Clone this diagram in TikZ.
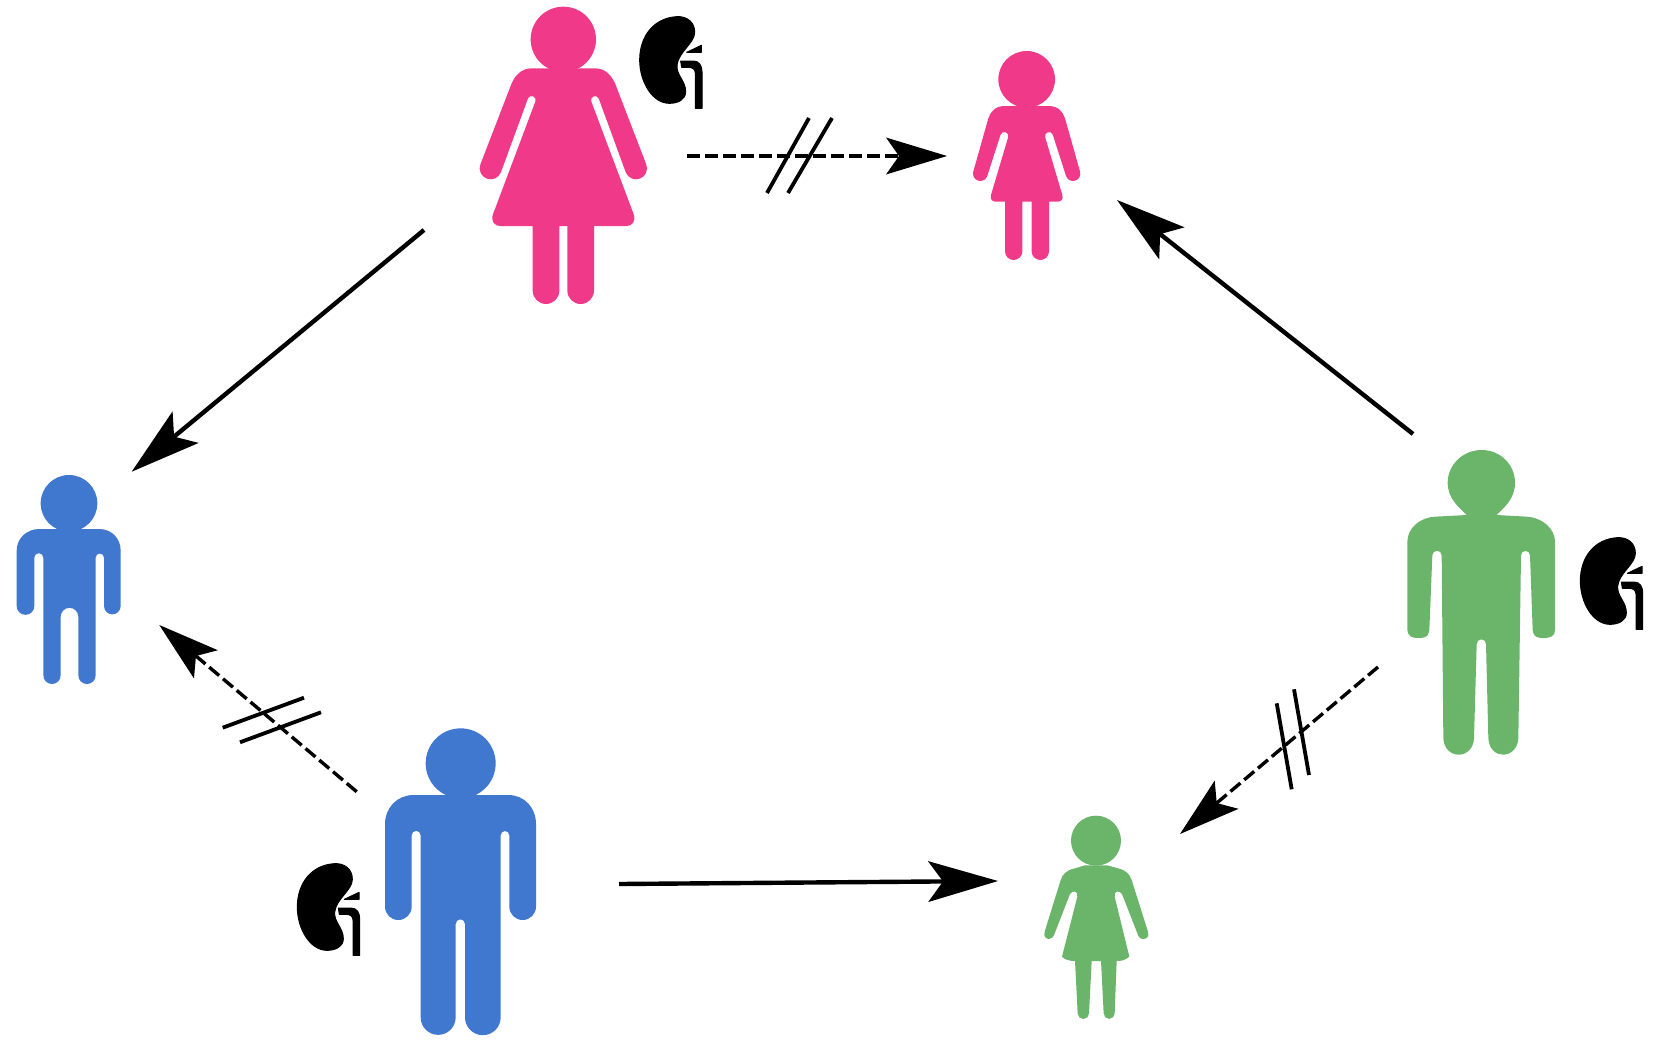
\documentclass[tikz,border=0pt]{standalone}
\usetikzlibrary{arrows.meta}
\definecolor{pinkfig}{HTML}{F1398A}
\definecolor{bluefig}{HTML}{3F78CE}
\definecolor{greenfig}{HTML}{6BB56B}
\tikzset{
  figframe/.style={scale=0.33333},
  kidneyshape/.style={fill=black,draw=black,line width=1pt,line join=round},
  solidarrow/.style={line width=4.4pt,-{Stealth[length=70pt,width=41pt,inset=15pt,line width=0pt]}},
  dasharrow/.style={line width=3.4pt,dash pattern=on 13pt off 5pt,-{Stealth[length=61pt,width=37pt,inset=13pt,line width=0pt]}},
  tickmark/.style={line width=3.8pt},
}
\newcommand{\kidneyat}[1]{%
  \begin{scope}[shift={#1},figframe]
    \path[kidneyshape] (140,20) .. controls (172,18) and (195,38) .. (194,68)
      .. controls (193,100) and (146,125) .. (141,165)
      .. controls (138,195) and (167,212) .. (167,245)
      .. controls (167,268) and (145,280) .. (118,280)
      .. controls (67,280) and (29,215) .. (29,150)
      .. controls (29,78) and (72,24) .. (140,20) -- cycle;
    \path[kidneyshape] (170,127) -- (214,106) -- (214,127) -- cycle;
    \path[kidneyshape] (152,153) -- (190,153) .. controls (208,153) and (216,168) .. (216,185)
      -- (216,295) -- (196,295) -- (196,190) .. controls (196,178) and (188,172) .. (175,172)
      -- (155,172) -- cycle;
  \end{scope}}
\begin{document}
\begin{tikzpicture}[x=1pt,y=-1pt]
\useasboundingbox (0,0) rectangle (1653,1044);

% large woman, pink
\begin{scope}[shift={(460,0)},figframe]
  \fill[pinkfig] (310,118) circle (98);
  \fill[pinkfig] (215,205) -- (405,205) .. controls (435,205) and (455,225) .. (467,255)
    -- (558.7,493) arc (-21.4:158.6:33)
    -- (416.2,295.7) arc (-21.4:-201.4:12)
    -- (520,640) .. controls (530,665) and (515,678) .. (500,678)
    -- (402,678) -- (402,872) arc (0:180:40)
    -- (322,678) -- (298,678) -- (298,872) arc (0:180:40)
    -- (218,678) -- (120,678) .. controls (105,678) and (90,665) .. (100,640)
    -- (226.2,304.3) arc (21.4:-158.6:12)
    -- (122.7,517) arc (21.4:201.4:33)
    -- (153,255) .. controls (165,225) and (185,205) .. (215,205) -- cycle;
\end{scope}

% small woman, pink
\begin{scope}[shift={(950,30)},figframe]
  \fill[pinkfig] (230,148) circle (85);
  \fill[pinkfig] (165,228) -- (295,228) .. controls (325,228) and (338,245) .. (345,265)
    -- (390.1,424.9) arc (-16.2:163.8:22)
    -- (308.5,314.7) arc (-16.2:-196.2:12)
    -- (337,495) .. controls (341,510) and (332,515) .. (322,515)
    -- (297,515) -- (297,664) arc (0:180:26)
    -- (245,515) -- (217,515) -- (217,664) arc (0:180:26)
    -- (165,515) -- (138,515) .. controls (128,515) and (119,510) .. (123,495)
    -- (174.5,321.3) arc (16.2:-163.8:12)
    -- (112.1,437.1) arc (16.2:196.2:22)
    -- (115,265) .. controls (122,245) and (135,228) .. (165,228) -- cycle;
\end{scope}

% small boy, blue
\begin{scope}[shift={(0,460)},figframe]
  \fill[bluefig] (207,130) circle (85);
  \fill[bluefig] (118,207) -- (297,207) .. controls (335,207) and (362,235) .. (362,272)
    -- (362,438) arc (0:180:25)
    -- (312,293) arc (0:-180:12.5)
    -- (287,646) arc (0:180:26)
    -- (235,470) arc (0:-180:26.5)
    -- (182,646) arc (0:180:26)
    -- (130,293) arc (0:-180:13.5)
    -- (103,438) arc (0:180:26.5)
    -- (50,272) .. controls (50,235) and (80,207) .. (118,207) -- cycle;
\end{scope}

% large man, blue
\begin{scope}[shift={(280,710)},figframe]
  \fill[bluefig] (542,160) circle (105);
  \fill[bluefig] (400,255) -- (685,255) .. controls (733,255) and (768,293) .. (768,342)
    -- (768,590) arc (0:180:40)
    -- (688,376) arc (0:-180:13)
    -- (662,922) arc (0:180:53.5)
    -- (555,642) arc (0:-180:14)
    -- (527,922) arc (0:180:52.5)
    -- (422,376) arc (0:-180:13.5)
    -- (395,590) arc (0:180:40)
    -- (315,342) .. controls (315,293) and (352,255) .. (400,255) -- cycle;
\end{scope}

% large man, green
\begin{scope}[shift={(1380,430)},figframe]
  \fill[greenfig] (305,60) .. controls (362,60) and (405,105) .. (405,158)
    .. controls (405,205) and (375,230) .. (350,255)
    -- (440,260) .. controls (485,262) and (525,295) .. (525,335)
    -- (525,600) .. controls (525,620) and (510,624) .. (490,624)
    .. controls (470,624) and (460,620) .. (458,600)
    -- (450,376) arc (0:-180:13.5)
    -- (415,925) .. controls (413,958) and (390,974) .. (370,974)
    .. controls (348,974) and (327,958) .. (325,925)
    -- (318,642) arc (0:-180:14)
    -- (282,925) .. controls (280,958) and (258,974) .. (236,974)
    .. controls (214,974) and (192,958) .. (190,925)
    -- (185,376) arc (0:-180:14)
    -- (148,600) .. controls (146,620) and (136,624) .. (116,624)
    .. controls (96,624) and (84,620) .. (82,600)
    -- (82,335) .. controls (82,295) and (120,262) .. (165,260)
    -- (260,255) .. controls (235,230) and (203,205) .. (203,158)
    .. controls (203,105) and (248,60) .. (305,60) -- cycle;
\end{scope}

% small woman, green
\begin{scope}[shift={(1020,800)},figframe]
  \fill[greenfig] (228,122) circle (75);
  \fill[greenfig] (194,196) -- (262,196)
    -- (295,205) .. controls (320,212) and (328,222) .. (335,240)
    -- (384,395) .. controls (388,410) and (380,417) .. (370,417)
    .. controls (360,417) and (355,410) .. (352,400)
    -- (306,282) .. controls (300,270) and (280,272) .. (284,290)
    -- (328,470) .. controls (315,482) and (300,483) .. (290,483)
    -- (284,640) arc (0:180:16.5)
    -- (243,483) -- (215,483) -- (207,640) arc (0:180:17)
    -- (165,483) .. controls (150,483) and (135,480) .. (126,470)
    -- (172,290) .. controls (176,272) and (156,270) .. (150,282)
    -- (104,400) .. controls (100,410) and (96,417) .. (88,417)
    .. controls (78,417) and (70,410) .. (74,395)
    -- (122,240) .. controls (128,222) and (140,210) .. (165,205) -- cycle;
\end{scope}

\kidneyat{(630,10)}
\kidneyat{(287.67,857)}
\kidneyat{(1570.67,531)}

% connector ends
\coordinate (wstart) at (424,230);   \coordinate (bsmall) at (131.7,471.7);
\coordinate (mstart) at (1413,434);  \coordinate (wsmall) at (1117,200);
\coordinate (bstart) at (619,884);   \coordinate (gsmall) at (998,881);
\coordinate (pdstart) at (687,156);  \coordinate (pdend) at (947,156);
\coordinate (bdstart) at (356.7,791.7);  \coordinate (bdend) at (159.3,625);
\coordinate (gdstart) at (1378,667); \coordinate (gdend) at (1180,834);

\draw[solidarrow] (wstart) -- (bsmall);
\draw[solidarrow] (mstart) -- (wsmall);
\draw[solidarrow] (bstart) -- (gsmall);
\draw[dasharrow] (pdstart) -- (pdend);
\draw[dasharrow] (bdstart) -- (bdend);
\draw[dasharrow] (gdstart) -- (gdend);

% break marks
\draw[tickmark] (767,193) -- (809,118);
\draw[tickmark] (788,193) -- (832,118);
\draw[tickmark] (222.7,727.7) -- (304,697.7);
\draw[tickmark] (240,742.3) -- (321,712.3);
\draw[tickmark] (1276.7,703.3) -- (1291.7,789.3);
\draw[tickmark] (1294,689.3) -- (1309,775);
\end{tikzpicture}
\end{document}
